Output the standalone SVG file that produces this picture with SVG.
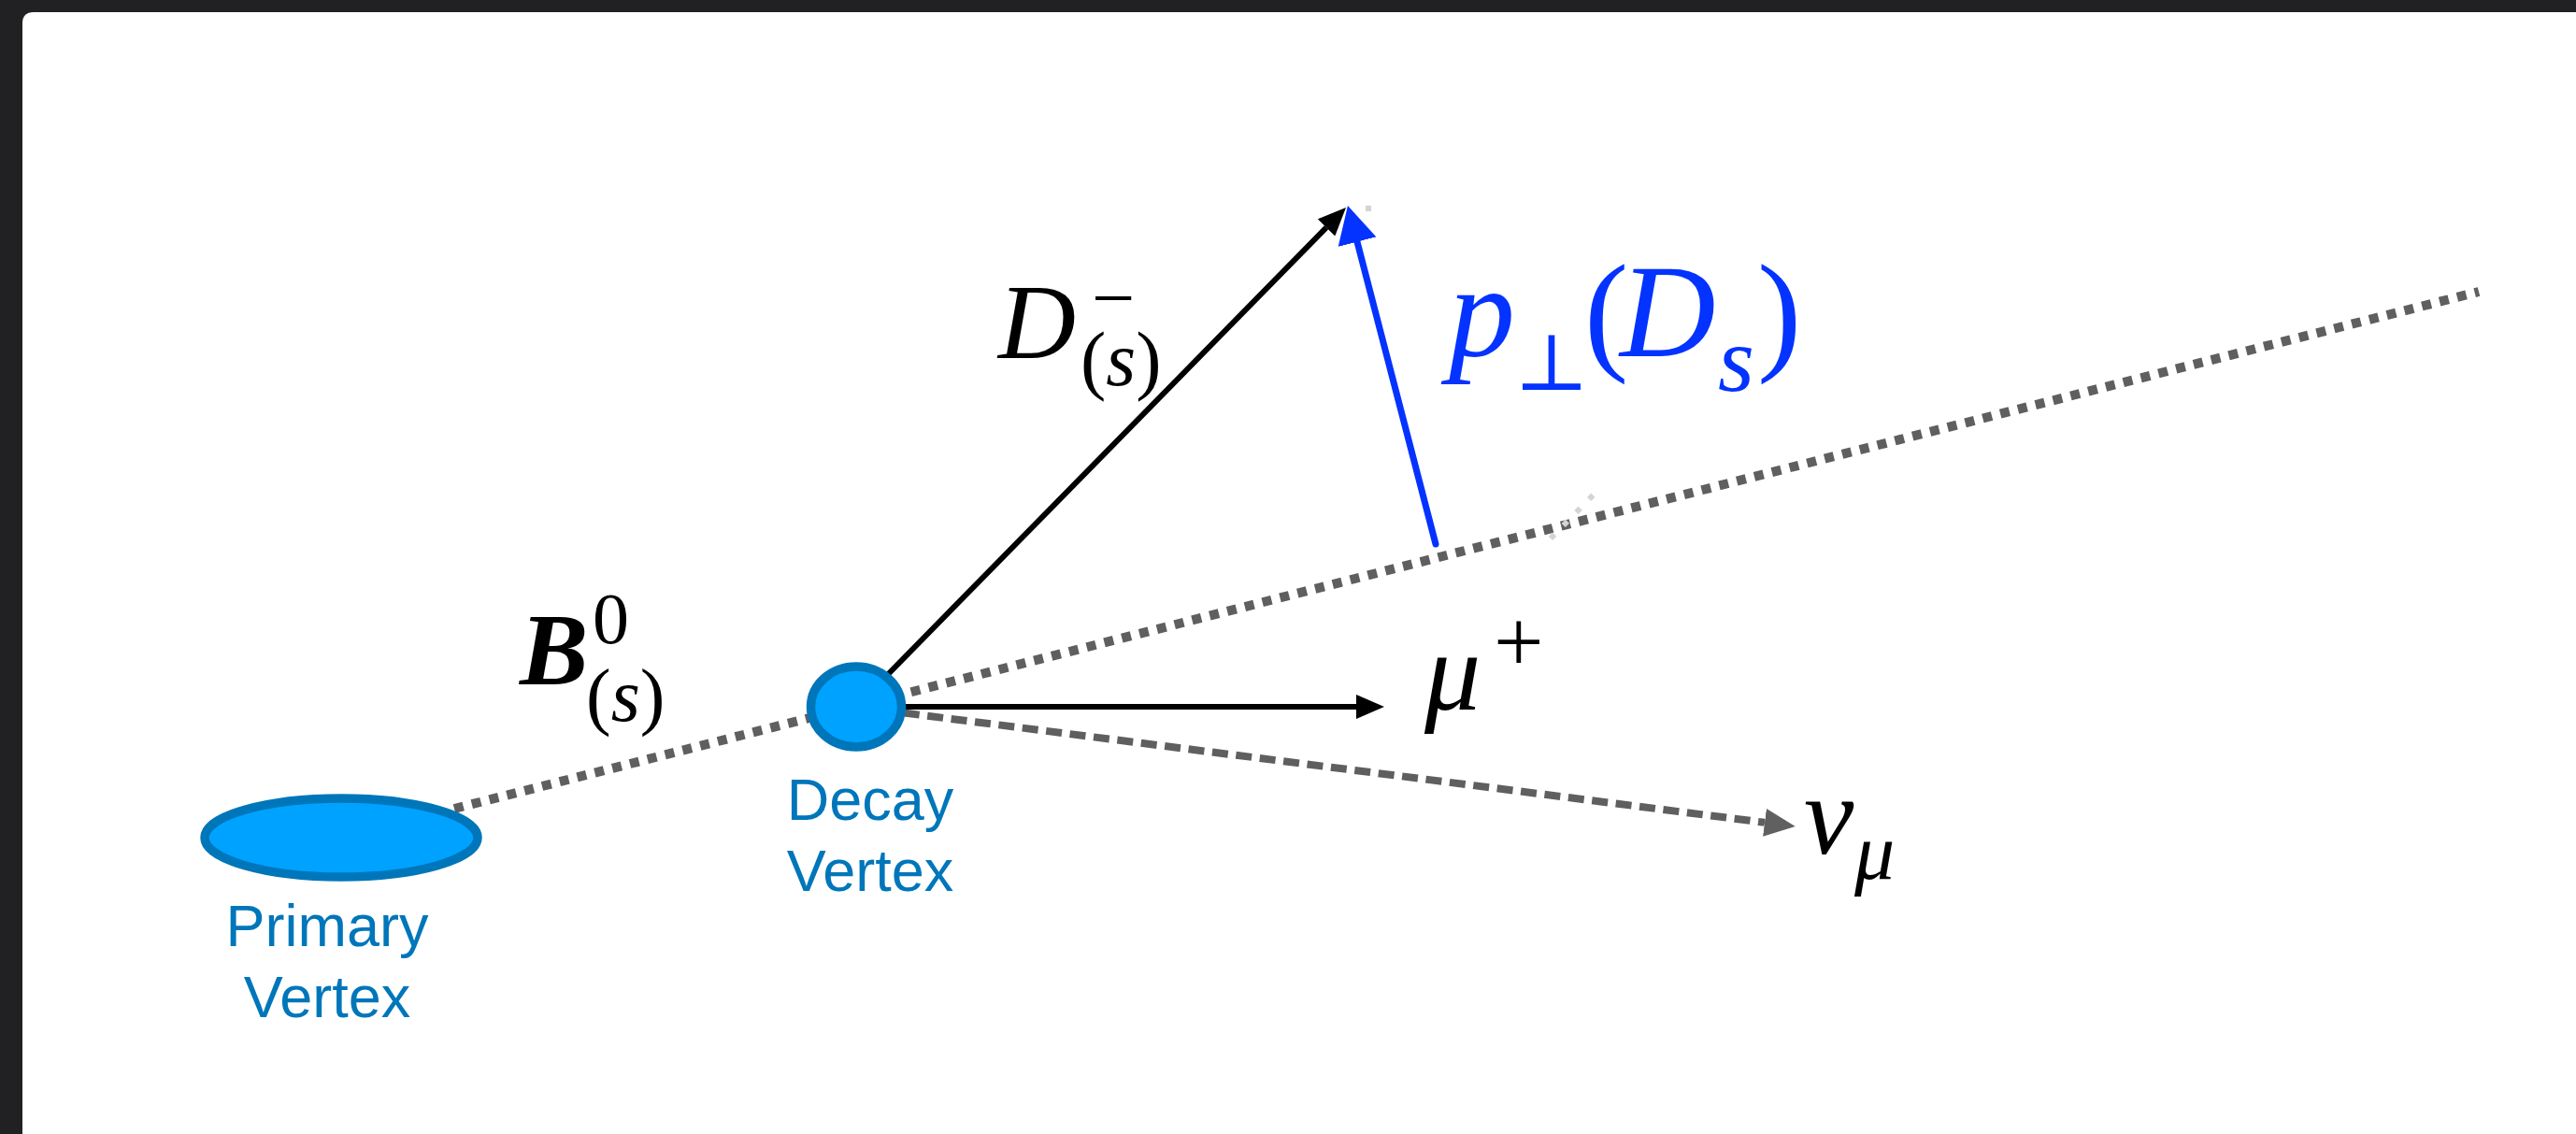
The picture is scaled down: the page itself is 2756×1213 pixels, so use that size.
<svg xmlns="http://www.w3.org/2000/svg" width="2756" height="1213" viewBox="0 0 2756 1213">
<defs>
<style>
.vtx{fill:#00A2FF;stroke:#0076BA;stroke-width:9.5}
.lbl{font-family:"Liberation Sans",Arial,sans-serif;font-size:63px;fill:#0076BA;text-anchor:middle}
.m{font-family:"Liberation Serif","Times New Roman",serif;font-style:italic;fill:#000}
.r{font-style:normal}
.it{font-style:italic}
.blue{fill:#0433FF}
.solid{stroke:#000;stroke-width:6;fill:none}
</style>
<marker id="ahBlack" markerUnits="userSpaceOnUse" viewBox="0 0 30 26" refX="0" refY="13" markerWidth="30" markerHeight="26" orient="auto"><path d="M0,0 L30,13 L0,26 Z" fill="#000"/></marker>
<marker id="ahGray" markerUnits="userSpaceOnUse" viewBox="0 0 33 30" refX="0" refY="15" markerWidth="33" markerHeight="30" orient="auto"><path d="M0,0 L33,15 L0,30 Z" fill="#606060"/></marker>
<marker id="ahBlue" markerUnits="userSpaceOnUse" viewBox="0 0 40 42" refX="0" refY="21" markerWidth="40" markerHeight="42" orient="auto"><path d="M0,0 L40,21 L0,42 Z" fill="#0433FF"/></marker>
</defs>
<rect x="0" y="0" width="2756" height="1213" fill="#212124"/>
<path d="M24,25 Q24,13 36,13 H2756 V1213 H24 Z" fill="#fff"/>
<g id="connectors">
<path id="b-track" d="M486,865 L2652,312" stroke="#5f5f5f" stroke-width="10" stroke-dasharray="10 9.4" fill="none"/>
<path id="artifact" d="M1659,576 L1707,527" stroke="#d4d4d4" stroke-width="6" stroke-dasharray="6 13.6" fill="none"/>
<rect x="1461" y="220" width="6" height="6" fill="#d4d4d4"/>
<path id="d-track" class="solid" d="M916,756 L1419,243.4" marker-end="url(#ahBlack)"/>
<path id="mu-track" class="solid" d="M916,756 L1451,756" marker-end="url(#ahBlack)"/>
<path id="nu-track" d="M916,756 L1888,879.8" stroke="#5f5f5f" stroke-width="8" stroke-dasharray="17 8.6" fill="none" marker-end="url(#ahGray)"/>
<path id="pperp" d="M1536,582 L1452,258.7" stroke="#0433FF" stroke-width="7" stroke-linecap="round" fill="none" marker-end="url(#ahBlue)"/>
</g>
<g id="primary-vertex">
<ellipse class="vtx" cx="365" cy="896" rx="146" ry="42"/>
<text class="lbl" x="350" y="1012">Primary</text>
<text class="lbl" x="350" y="1088">Vertex</text>
</g>
<g id="decay-vertex">
<ellipse class="vtx" cx="916" cy="756" rx="48.5" ry="43"/>
<text class="lbl" x="931" y="877">Decay</text>
<text class="lbl" x="931" y="953">Vertex</text>
</g>
<g id="label-B">
<text class="m" font-size="110"><tspan x="556" y="732" font-weight="bold">B</tspan><tspan class="r" x="634" y="688" font-size="78">0</tspan><tspan class="r" x="627" y="771" font-size="80">(</tspan><tspan class="it" font-size="80">s</tspan><tspan class="r" font-size="80">)</tspan></text>
</g>
<g id="label-D">
<text class="m" font-size="115"><tspan x="1068" y="383">D</tspan><tspan class="r" x="1168" y="346" font-size="82">−</tspan><tspan class="r" x="1156" y="412" font-size="82">(</tspan><tspan class="it" font-size="82">s</tspan><tspan class="r" font-size="82">)</tspan></text>
</g>
<g id="label-mu">
<text class="m" font-size="120"><tspan x="1524" y="759">μ</tspan><tspan class="r" x="1598" y="718" font-size="95">+</tspan></text>
</g>
<g id="label-nu">
<text class="m" font-size="120"><tspan x="1930" y="913">ν</tspan><tspan x="1984" y="940" font-size="86">μ</tspan></text>
</g>
<g id="label-pperp">
<text class="m blue" font-size="142"><tspan x="1550" y="381">p</tspan><tspan class="r" x="1620" y="417" font-size="85" font-family="'DejaVu Serif',serif">⊥</tspan><tspan class="r" x="1695" y="381">(</tspan><tspan x="1733" y="381">D</tspan><tspan x="1838" y="418" font-size="100">s</tspan><tspan class="r" x="1880" y="381">)</tspan></text>
</g>
</svg>
